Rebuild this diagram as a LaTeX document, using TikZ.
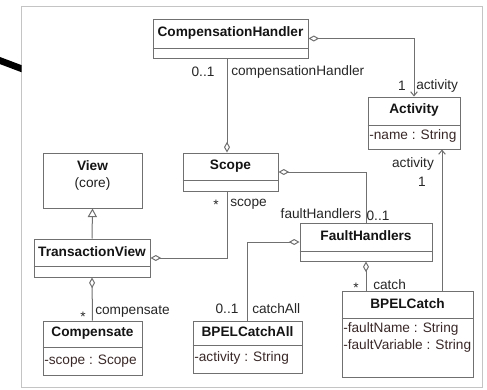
\documentclass[tikz,border=0pt]{standalone}
\usepackage{fontspec}
\setmainfont{Liberation Sans}
\usetikzlibrary{arrows.meta,fit}
\definecolor{umlline}{HTML}{707070}
\definecolor{attrtext}{HTML}{3A2828}
\definecolor{framegray}{HTML}{C4C4C4}
\begin{document}
\begin{tikzpicture}[x=0.75pt,y=-0.75pt,
  every node/.style={font=\fontsize{10.25pt}{12pt}\selectfont, inner sep=0pt, text=black!88},
  classbox/.style={draw=umlline, line width=0.75pt, inner sep=0pt},
  title/.style={font=\fontsize{10.25pt}{12pt}\selectfont\bfseries, text=black!92},
  attr/.style={anchor=west, text=attrtext},
  lbl/.style={text=black!85},
  conn/.style={draw=umlline, line width=0.75pt},
  agg/.style={conn, {Diamond[open,length=8pt,width=4.5pt]}-},
  aggnav/.style={conn, {Diamond[open,length=8pt,width=4.5pt]}-{Straight Barb[length=3pt,width=5pt]}},
  nav/.style={conn, -{Straight Barb[length=3pt,width=5pt]}},
  gen/.style={conn, {Triangle[open,length=6.5pt,width=7pt,fill=white]}-}
]
\useasboundingbox (0,0) rectangle (487,390);

% outer frame and the stray pen stroke at its left
\draw[framegray, line width=0.75pt] (21,6) rectangle (482,387);
\begin{scope}
  \clip (0,40) rectangle (21.5,90);
  \draw[black, line width=5pt] (-2,59.8) -- (25,70);
\end{scope}

% class boxes
\node[classbox, fit={(153,19) (308,58)}] (ch) {};
\node[classbox, fit={(183,153) (278,191)}] (sc) {};
\node[classbox, fit={(368,97) (460,149)}] (act) {};
\node[classbox, fit={(43,153) (142,208)}] (view) {};
\node[classbox, fit={(34,239) (150,277)}] (tv) {};
\node[classbox, fit={(43,321) (142,375)}] (comp) {};
\node[classbox, fit={(300,223) (432,261)}] (fh) {};
\node[classbox, fit={(193,321) (302,373)}] (bca) {};
\node[classbox, fit={(342,291) (473,377)}] (bc) {};

% compartment dividers
\draw[conn] (ch.west |- 0,48) -- (ch.east |- 0,48);
\draw[conn] (sc.west |- 0,180) -- (sc.east |- 0,180);
\draw[conn] (act.west |- 0,125) -- (act.east |- 0,125);
\draw[conn] (tv.west |- 0,266) -- (tv.east |- 0,266);
\draw[conn] (comp.west |- 0,347) -- (comp.east |- 0,347);
\draw[conn] (fh.west |- 0,251) -- (fh.east |- 0,251);
\draw[conn] (bca.west |- 0,345) -- (bca.east |- 0,345);
\draw[conn] (bc.west |- 0,318) -- (bc.east |- 0,318);

% class names
\node[title] (ch-t) at (230.5,33) {CompensationHandler};
\node[title] (sc-t) at (230.5,166) {Scope};
\node[title] (act-t) at (414,110) {Activity};
\node[title] (view-t) at (92.5,166) {View};
\node (view-s) at (92.5,184) {(core)};
\node[title] (tv-t) at (92,252) {TransactionView};
\node[title] (comp-t) at (92.5,333) {Compensate};
\node[title] (fh-t) at (366,236) {FaultHandlers};
\node[title] (bca-t) at (247.5,332) {BPELCatchAll};
\node[title] (bc-t) at (407.5,304) {BPELCatch};

% attributes
\node[attr] (act-a) at (369,136) {-name : String};
\node[attr] (comp-a) at (44,361) {-scope : Scope};
\node[attr] (bca-a) at (194,358) {-activity : String};
\node[attr] (bc-a1) at (343,329) {-faultName : String};
\node[attr] (bc-a2) at (343,346) {-faultVariable : String};

% associations
\coordinate (xch) at (227,0);
\coordinate (xac) at (442,0);
\draw[agg] (sc.north -| xch) -- (ch.south -| xch);
\draw[aggnav] (ch.east) -| (act.north);
\draw[agg] (sc.east) -| (fh.north);
\draw[agg] (tv.east) -| (sc.south -| xch);
\draw[gen] (view.south) -- (tv.north);
\draw[agg] (tv.south) -- (comp.north);
\draw[agg] (fh.west) -| (bca.north);
\draw[agg] (fh.south) -- (fh.south |- bc.north);
\draw[nav] (bc.north -| xac) -- (act.south -| xac);

% role names and multiplicities
\node[lbl] (m-ch) at (203,72) {0..1};
\node[lbl, anchor=west] (r-ch) at (231,72) {compensationHandler};
\node[lbl] (m-act1) at (402,86) {1};
\node[lbl, anchor=west] (r-act1) at (416,86) {activity};
\node[lbl] (r-act2) at (413,164) {activity};
\node[lbl] (m-act2) at (422,182) {1};
\node[lbl] (m-sc) at (216,205) {*};
\node[lbl, anchor=west] (r-sc) at (230,204) {scope};
\node[lbl] (r-fh) at (321,214) {faultHandlers};
\node[lbl] (m-fh) at (378,216) {0..1};
\node[lbl] (m-comp) at (83,317) {*};
\node[lbl, anchor=west] (r-comp) at (95,311) {compensate};
\node[lbl] (m-bca) at (227,309) {0..1};
\node[lbl, anchor=west] (r-bca) at (252,309) {catchAll};
\node[lbl] (m-bc) at (356,288) {*};
\node[lbl, anchor=west] (r-bc) at (373,285) {catch};
\end{tikzpicture}
\end{document}
